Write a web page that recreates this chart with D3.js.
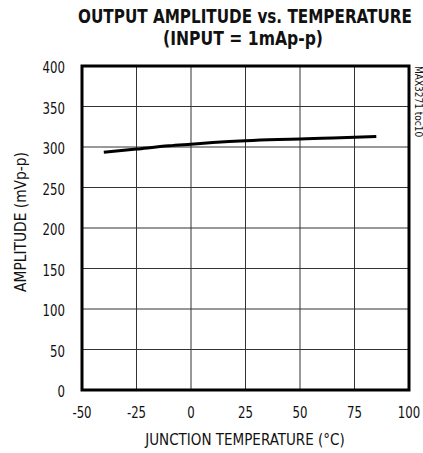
<!DOCTYPE html>
<html>
<head>
<meta charset="utf-8">
<script src="https://cdn.jsdelivr.net/npm/d3@7"></script>
<style>
  body { margin: 0; background: #fff; }
  text { font-family: "DejaVu Sans Condensed", "DejaVu Sans", sans-serif; font-stretch: condensed; fill: #111; }
</style>
</head>
<body>
<div id="chart"></div>
<script>
// temperature (°C) and output amplitude (mVp-p)
var temps = [-40, -25, -10, 0, 10, 25, 40, 50, 60, 75, 85];
var amps = [293.5, 297.5, 301.5, 303.5, 305.5, 307.8, 309.3, 310, 310.8, 312, 313];
var xTicks = [-50, -25, 0, 25, 50, 75, 100];
var yTicks = [0, 50, 100, 150, 200, 250, 300, 350, 400];

const w = 423, h = 453;
const pl = 82, pr = 409, pt = 66, pb = 390;

const svg = d3.select("#chart").append("svg").attr("width", w).attr("height", h);

const x = d3.scaleLinear().domain([-50, 100]).range([pl, pr]);
const y = d3.scaleLinear().domain([0, 400]).range([pb, pt]);

// grid
svg.append("g").selectAll("line").data(xTicks.slice(1, -1)).enter().append("line")
  .attr("x1", d => x(d)).attr("x2", d => x(d)).attr("y1", pt).attr("y2", pb)
  .attr("stroke", "#333").attr("stroke-width", 1);
svg.append("g").selectAll("line").data(yTicks.slice(1, -1)).enter().append("line")
  .attr("y1", d => y(d)).attr("y2", d => y(d)).attr("x1", pl).attr("x2", pr)
  .attr("stroke", "#333").attr("stroke-width", 1);

// curve
svg.append("path").datum(temps.map((t, i) => [t, amps[i]]))
  .attr("fill", "none").attr("stroke", "#000").attr("stroke-width", 3)
  .attr("d", d3.line().x(d => x(d[0])).y(d => y(d[1])).curve(d3.curveMonotoneX));

// frame
svg.append("rect").attr("x", pl).attr("y", pt).attr("width", pr - pl).attr("height", pb - pt)
  .attr("fill", "none").attr("stroke", "#000").attr("stroke-width", 3);

// tick labels (squeezed a bit, the original font is narrow)
svg.append("g").selectAll("text").data(xTicks).enter().append("text")
  .attr("transform", d => "translate(" + x(d) + "," + (pb + 28) + ") scale(0.87,1)")
  .attr("text-anchor", "middle").attr("font-size", 15).text(d => d);
svg.append("g").selectAll("text").data(yTicks).enter().append("text")
  .attr("transform", d => "translate(" + (pl - 17) + "," + (y(d) + 7) + ") scale(0.87,1)")
  .attr("text-anchor", "end").attr("font-size", 15).text(d => d);

// squeeze a text to a given width around its centre
function fitText(cx, cy, size, bold, width, str, rot) {
  var t = svg.append("text").attr("text-anchor", "middle").attr("font-size", size)
    .attr("font-weight", bold ? "bold" : "normal").text(str);
  var s = width / t.node().getComputedTextLength();
  t.attr("transform", "translate(" + cx + "," + cy + ")" + (rot ? " rotate(" + rot + ")" : "") + " scale(" + s + ",1)");
  return t;
}

// titles
fitText(245, 23, 20, true, 334, "OUTPUT AMPLITUDE vs. TEMPERATURE");
fitText(243, 45, 20, true, 160, "(INPUT = 1mAp-p)");

svg.append("text").attr("x", 245).attr("y", 445).attr("text-anchor", "middle")
  .attr("font-size", 15).text("JUNCTION TEMPERATURE (°C)");
fitText(26, 222, 15, false, 140, "AMPLITUDE (mVp-p)", -90);

svg.append("text").attr("transform", "translate(415," + pt + ") rotate(90)")
  .attr("text-anchor", "start").attr("font-size", 10).attr("fill", "#555").text("MAX3271 toc10");
</script>
</body>
</html>
